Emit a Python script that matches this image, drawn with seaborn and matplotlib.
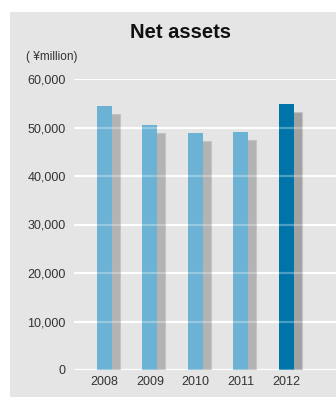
import matplotlib
matplotlib.use("Agg")
import matplotlib.pyplot as plt
import matplotlib.patches as mpatches
from matplotlib.ticker import FuncFormatter
import seaborn as sns
import pandas as pd
import numpy as np

years = ["2008", "2009", "2010", "2011", "2012"]
net_assets = [54400, 50500, 48900, 49100, 54800]
equity = [52800, 48800, 47200, 47400, 53100]
y_ticks = [0, 10000, 20000, 30000, 40000, 50000, 60000]

blue_colors = ["#6bb2d4", "#6bb2d4", "#6bb2d4", "#6bb2d4", "#0074a8"]
gray_colors = ["#b3b3b3", "#b3b3b3", "#b3b3b3", "#b3b3b3", "#a2a2a2"]

sns.set_theme(style="white")
plt.rcParams["font.family"] = ["Liberation Sans", "DejaVu Sans"]

fig = plt.figure(figsize=(3.36, 3.97), dpi=100)
fig.patch.set_facecolor("white")
fig.patches.append(mpatches.Rectangle((10 / 336, 0), 326 / 336, 385 / 397,
                                      transform=fig.transFigure, facecolor="#e5e5e5",
                                      edgecolor="none", zorder=-10))

ax = fig.add_axes([74 / 336, 27 / 397, 262 / 336, 291 / 397])
ax.set_facecolor("none")
ax.set_zorder(5)

pos = np.arange(len(years), dtype=float)
df_blue = pd.DataFrame({"x": pos, "v": net_assets, "yr": years})
df_gray = pd.DataFrame({"x": pos + 0.176, "v": equity, "yr": years})

sns.barplot(data=df_gray, x="x", y="v", hue="yr", palette=gray_colors, native_scale=True,
            dodge=False, width=0.33, legend=False, ax=ax, saturation=1,
            edgecolor="#c4c4c4", linewidth=0.8, zorder=2)
sns.barplot(data=df_blue, x="x", y="v", hue="yr", palette=blue_colors, native_scale=True,
            dodge=False, width=0.33, legend=False, ax=ax, saturation=1,
            linewidth=0, zorder=3)

ax.set_ylim(0, 60000)
ax.set_xlim(-0.67, 5.09)
ax.set_yticks(y_ticks)
ax.yaxis.set_major_formatter(FuncFormatter(lambda v, p: f"{int(v):,}"))
ax.set_xticks(pos)
ax.set_xticklabels(years)
ax.set_xlabel("")
ax.set_ylabel("")
ax.grid(axis="y", color="white", linewidth=1.6, zorder=1)
ax.set_axisbelow(True)
for t in y_ticks:
    ax.axhline(t, color="white", linewidth=1.6, alpha=0.3, zorder=4)
for s in ax.spines.values():
    s.set_visible(False)
ax.tick_params(axis="both", length=0, labelsize=9, colors="#333333")
ax.tick_params(axis="y", pad=6)
ax.tick_params(axis="x", pad=4)

fig.text(180 / 336, 1 - 32 / 397, "Net assets", ha="center", va="center",
         fontsize=14.5, fontweight="bold", color="#111111")
fig.text(26 / 336, 1 - 57 / 397, "( \u00a5million)", ha="left", va="center",
         fontsize=8.5, color="#333333")

fig.savefig("out.png", dpi=100)
